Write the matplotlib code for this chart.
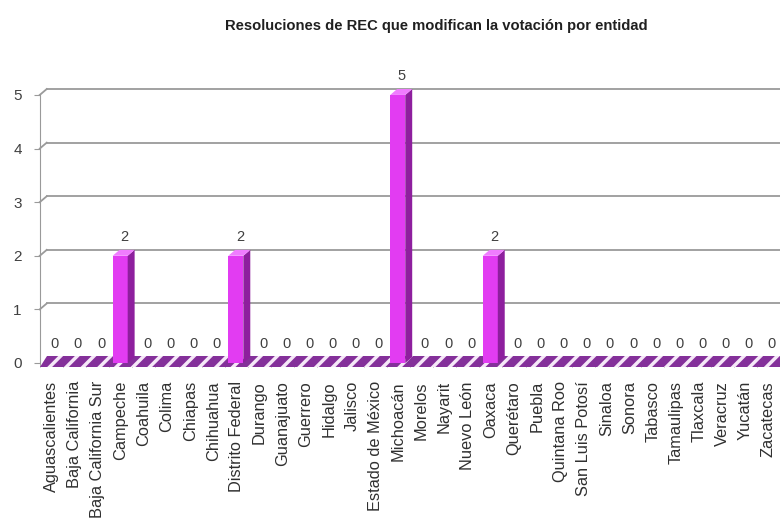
import matplotlib
matplotlib.use("Agg")
import matplotlib.pyplot as plt
from matplotlib.patches import Polygon

# datos
estados = ["Aguascalientes", "Baja California", "Baja California Sur", "Campeche",
           "Coahuila", "Colima", "Chiapas", "Chihuahua", "Distrito Federal",
           "Durango", "Guanajuato", "Guerrero", "Hidalgo", "Jalisco",
           "Estado de México", "Michoacán", "Morelos", "Nayarit", "Nuevo León",
           "Oaxaca", "Querétaro", "Puebla", "Quintana Roo", "San Luis Potosí",
           "Sinaloa", "Sonora", "Tabasco", "Tamaulipas", "Tlaxcala", "Veracruz",
           "Yucatán", "Zacatecas"]
resoluciones = [0, 0, 0, 2, 0, 0, 0, 0, 2, 0, 0, 0, 0, 0, 0, 5,
                0, 0, 0, 2, 0, 0, 0, 0, 0, 0, 0, 0, 0, 0, 0, 0]
niveles_y = [0, 1, 2, 3, 4, 5]
titulo = "Resoluciones de REC que modifican la votación por entidad"

plt.rcParams['font.family'] = ['Liberation Sans', 'DejaVu Sans']
plt.rcParams['hatch.linewidth'] = 2.5

fig = plt.figure(figsize=(7.8, 5.19), dpi=100)
ax = fig.add_axes([0.051, 0.3006, 0.949, 0.532])
n = len(estados)
ax.set_xlim(0, n)
ax.set_ylim(0, 5.15)

# profundidad del efecto 3D (unidades de datos)
dx, dy = 0.3, 0.11
gris = "#9a9a9a"

# lineas de cuadricula (pared del fondo) con su diagonal
for v in niveles_y[1:]:
    ax.plot([dx, n + 1], [v + dy, v + dy], color=gris, lw=1.3, clip_on=False, zorder=1)
    ax.plot([0, dx], [v, v + dy], color=gris, lw=1.3, clip_on=False, zorder=1)

# piso rayado
piso = Polygon([(0, -0.07), (n + 1, -0.07), (n + 1, 0.13), (dx, 0.13)],
               closed=True, facecolor="#84309a", edgecolor="#f6e8f8",
               hatch="//", lw=0, clip_on=False, zorder=2)
ax.add_patch(piso)

# barras con cara frontal, lateral y superior
for i, v in enumerate(resoluciones):
    x0, x1 = i + 0.15, i + 0.8
    if v > 0:
        ax.add_patch(Polygon([(x0, 0), (x1, 0), (x1, v), (x0, v)],
                             facecolor="#e23cf2", edgecolor="none", zorder=3))
        ax.add_patch(Polygon([(x1, 0), (x1 + dx, dy), (x1 + dx, v + dy), (x1, v)],
                             facecolor="#8e1f9e", edgecolor="none", zorder=3, clip_on=False))
        ax.add_patch(Polygon([(x0, v), (x1, v), (x1 + dx, v + dy), (x0 + dx, v + dy)],
                             facecolor="#f07cff", edgecolor="none", zorder=3, clip_on=False))
    ax.text(i + 0.5 + dx / 2, v + 0.22, str(v), ha="center", va="bottom",
            fontsize=10.5, color="#404040", clip_on=False, zorder=4)

# ejes
for s in ["top", "right", "bottom"]:
    ax.spines[s].set_visible(False)
ax.spines["left"].set_color(gris)
ax.spines["left"].set_bounds(0, 5)
ax.set_yticks(niveles_y)
ax.set_yticklabels([str(v) for v in niveles_y], fontsize=11, color="#404040")
ax.tick_params(axis="y", direction="out", length=4, color=gris, pad=9)

ax.set_xticks([i + 0.5 for i in range(n)])
ax.set_xticklabels(estados, rotation=90, fontsize=11.8, color="#303030")
ax.tick_params(axis="x", which="major", length=0, pad=13)
ax.set_xticks(range(n + 1), minor=True)
ax.tick_params(axis="x", which="minor", direction="out", length=3, color=gris)

fig.text(0.559, 0.95, titulo, ha="center", va="center", fontsize=10.6,
         fontweight="bold", color="#202020")

fig.savefig("out.png", dpi=100)
